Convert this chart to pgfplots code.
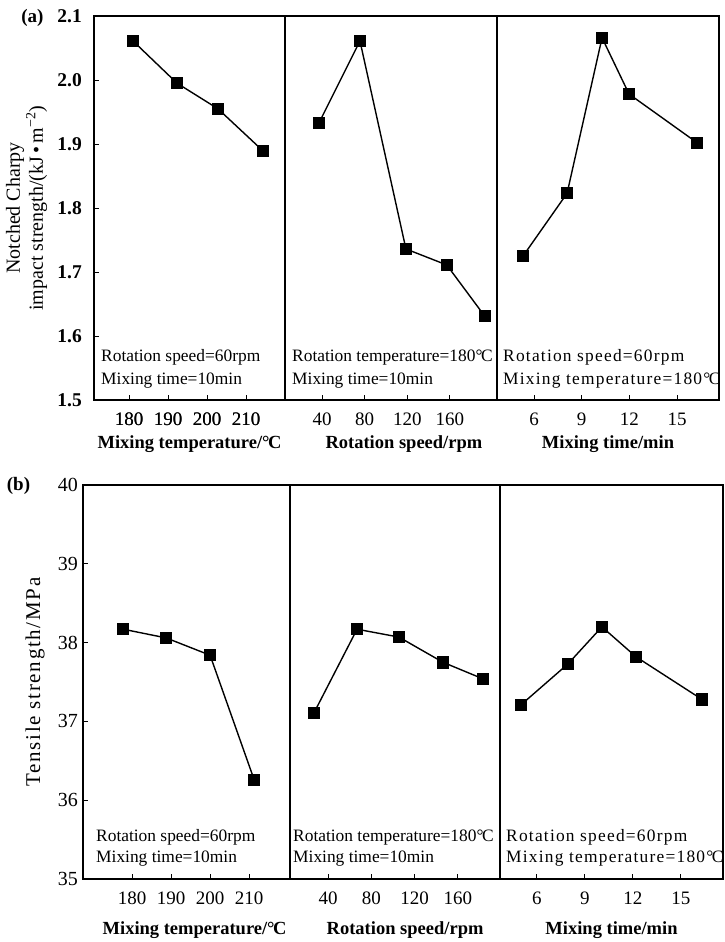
\documentclass[border=0pt]{standalone}
\usepackage{fontspec}
\setmainfont{Liberation Serif}
\usepackage{pgfplots}
\pgfplotsset{compat=1.18}

\newcommand{\degC}{\textdegree\kern-0.08em C}
\newcommand{\annotfont}{\fontsize{17.4}{20}\selectfont}
\newcommand{\annotwide}{\fontsize{17.4}{20}\selectfont\addfontfeature{LetterSpace=7}}
\newcommand{\tickfont}{\fontsize{19}{19}\selectfont}

\pgfplotsset{
  panel/.style={
    scale only axis,
    /pgf/number format/assume math mode=true,
    axis line style={line width=1.5pt},
    tick style={line width=1pt, black},
    xtick pos=bottom, ytick pos=left,
    tick align=inside,
    major tick length=5pt,
    xticklabel style={font=\tickfont, inner sep=0pt, anchor=north, yshift=-13pt},
    xlabel style={font=\fontsize{18.5}{20}\selectfont\bfseries, anchor=base, inner sep=0pt},
    clip=false,
  },
  dataline/.style={black, line width=1.4pt, mark=square*, mark size=5.5pt, mark options={solid, fill=black}},
}

\begin{document}
\begin{tikzpicture}
\useasboundingbox (0,0) rectangle (724pt,-942pt);

% ---------- (a) ----------
\begin{axis}[panel, at={(94pt,-400pt)}, anchor=south west,
  width=191pt, height=384pt,
  xmin=171, xmax=220, ymin=1.5, ymax=2.1,
  xtick={180,190,200,210},
  xticklabel={},
  ytick={1.5,1.6,1.7,1.8,1.9,2.0,2.1},
  yticklabels={1.5,1.6,1.7,1.8,1.9,2.0,2.1},
  yticklabel style={font=\fontsize{19.5}{19.5}\selectfont\bfseries, inner sep=0pt, anchor=east, xshift=-12pt},
  xlabel={Mixing temperature/\degC},
  xlabel style={at={(axis description cs:0.5,0)}, yshift=-48pt},
  ylabel={Notched Charpy\\impact strength/(kJ\,\textbullet\,m\textsuperscript{−2})},
  ylabel style={font=\fontsize{20}{23}\selectfont, align=center, at={(axis description cs:-0.3534,0.5)}, anchor=center},
]
\addplot[dataline] coordinates {(181.0,2.061) (192.3,1.995) (202.8,1.955) (214.4,1.889)};
\coordinate (ta180) at (axis cs:180,1.5);
\coordinate (ta190) at (axis cs:190,1.5);
\coordinate (ta200) at (axis cs:200,1.5);
\coordinate (ta210) at (axis cs:210,1.5);
\node[anchor=base west, inner sep=0pt, font=\annotfont, xshift=7pt, yshift=39pt] at (rel axis cs:0,0) {Rotation speed=60rpm};
\node[anchor=base west, inner sep=0pt, font=\annotfont, xshift=7pt, yshift=16pt] at (rel axis cs:0,0) {Mixing time=10min};
\node[anchor=center, inner sep=0pt, font=\fontsize{19}{19}\selectfont\bfseries, xshift=-61.5pt, yshift=-1.5pt] at (rel axis cs:0,1) {(a)};
\end{axis}

\begin{axis}[panel, at={(285pt,-400pt)}, anchor=south west,
  width=212pt, height=384pt,
  xmin=5.3, xmax=204.1, ymin=1.5, ymax=2.1,
  xtick={40,80,120,160},
  ytick=\empty,
  xlabel={Rotation speed/rpm},
  xlabel style={at={(axis description cs:0.561,0)}, yshift=-48pt},
]
\addplot[dataline] coordinates {(37.2,1.933) (75.6,2.061) (118.7,1.736) (157.0,1.711) (192.6,1.631)};
\node[anchor=base west, inner sep=0pt, font=\annotfont, xshift=7pt, yshift=39pt] at (rel axis cs:0,0) {Rotation temperature=180\degC};
\node[anchor=base west, inner sep=0pt, font=\annotfont, xshift=7pt, yshift=16pt] at (rel axis cs:0,0) {Mixing time=10min};
\end{axis}

\begin{axis}[panel, at={(497pt,-400pt)}, anchor=south west,
  width=222pt, height=384pt,
  xmin=3.67, xmax=17.64, ymin=1.5, ymax=2.1,
  xtick={6,9,12,15},
  ytick=\empty,
  xlabel={Mixing time/min},
  xlabel style={at={(axis description cs:0.5,0)}, yshift=-48pt},
]
\addplot[dataline] coordinates {(5.31,1.725) (8.08,1.823) (10.28,2.066) (11.98,1.978) (16.26,1.902)};
\node[anchor=base west, inner sep=0pt, font=\annotwide, xshift=6pt, yshift=39pt] at (rel axis cs:0,0) {Rotation speed=60rpm};
\node[anchor=base west, inner sep=0pt, font=\annotwide, xshift=6pt, yshift=16pt] at (rel axis cs:0,0) {Mixing temperature=180\degC};
\end{axis}

% ---------- (b) ----------
\begin{axis}[panel, at={(83pt,-879pt)}, anchor=south west,
  width=207pt, height=394pt,
  xmin=167.4, xmax=220.5, ymin=35, ymax=40,
  xtick={180,190,200,210},
  ytick={35,36,37,38,39,40}, yticklabels={35,36,37,38,39,40},
  yticklabel style={font=\fontsize{20}{20}\selectfont, inner sep=0pt, anchor=east, xshift=-5pt},
  xlabel={Mixing temperature/\degC},
  xlabel style={at={(axis description cs:0.539,0)}, yshift=-55pt},
  ylabel={Tensile strength/MPa},
  ylabel style={font=\fontsize{21}{21}\selectfont\addfontfeature{LetterSpace=8}, at={(axis description cs:-0.2319,0.5)}, anchor=center},
]
\addplot[dataline] coordinates {(177.7,38.17) (188.7,38.06) (200.0,37.84) (211.3,36.26)};
\node[anchor=base west, inner sep=0pt, font=\annotfont, xshift=13pt, yshift=38pt] at (rel axis cs:0,0) {Rotation speed=60rpm};
\node[anchor=base west, inner sep=0pt, font=\annotfont, xshift=13pt, yshift=17pt] at (rel axis cs:0,0) {Mixing time=10min};
\node[anchor=center, inner sep=0pt, font=\fontsize{19}{19}\selectfont\bfseries, xshift=-64.5pt, yshift=-1pt] at (rel axis cs:0,1) {(b)};
\end{axis}

\begin{axis}[panel, at={(290pt,-879pt)}, anchor=south west,
  width=210pt, height=394pt,
  xmin=4.9, xmax=198.8, ymin=35, ymax=40,
  xtick={40,80,120,160},
  ytick=\empty,
  xlabel={Rotation speed/rpm},
  xlabel style={at={(axis description cs:0.548,0)}, yshift=-55pt},
]
\addplot[dataline] coordinates {(27.1,37.11) (66.8,38.17) (105.5,38.07) (146.2,37.75) (183.1,37.54)};
\node[anchor=base west, inner sep=0pt, font=\annotfont, xshift=3pt, yshift=38pt] at (rel axis cs:0,0) {Rotation temperature=180\degC};
\node[anchor=base west, inner sep=0pt, font=\annotfont, xshift=3pt, yshift=17pt] at (rel axis cs:0,0) {Mixing time=10min};
\end{axis}

\begin{axis}[panel, at={(500pt,-879pt)}, anchor=south west,
  width=223pt, height=394pt,
  xmin=3.69, xmax=17.63, ymin=35, ymax=40,
  xtick={6,9,12,15},
  ytick=\empty,
  xlabel={Mixing time/min},
  xlabel style={at={(axis description cs:0.5,0)}, yshift=-55pt},
]
\addplot[dataline] coordinates {(5.0,37.21) (7.94,37.73) (10.06,38.20) (12.19,37.82) (16.31,37.28)};
\node[anchor=base west, inner sep=0pt, font=\annotwide, xshift=6pt, yshift=38pt] at (rel axis cs:0,0) {Rotation speed=60rpm};
\node[anchor=base west, inner sep=0pt, font=\annotwide, xshift=6pt, yshift=17pt] at (rel axis cs:0,0) {Mixing temperature=180\degC};
\end{axis}

% x tick labels of panel (a), first column
\node[anchor=north, inner sep=0pt, font=\tickfont, yshift=-13pt] at (ta180) {180};
\node[anchor=north, inner sep=0pt, font=\tickfont, yshift=-13pt] at (ta190) {190};
\node[anchor=north, inner sep=0pt, font=\tickfont, yshift=-13pt] at (ta200) {200};
\node[anchor=north, inner sep=0pt, font=\tickfont, yshift=-13pt] at (ta210) {210};
\end{tikzpicture}
\end{document}
